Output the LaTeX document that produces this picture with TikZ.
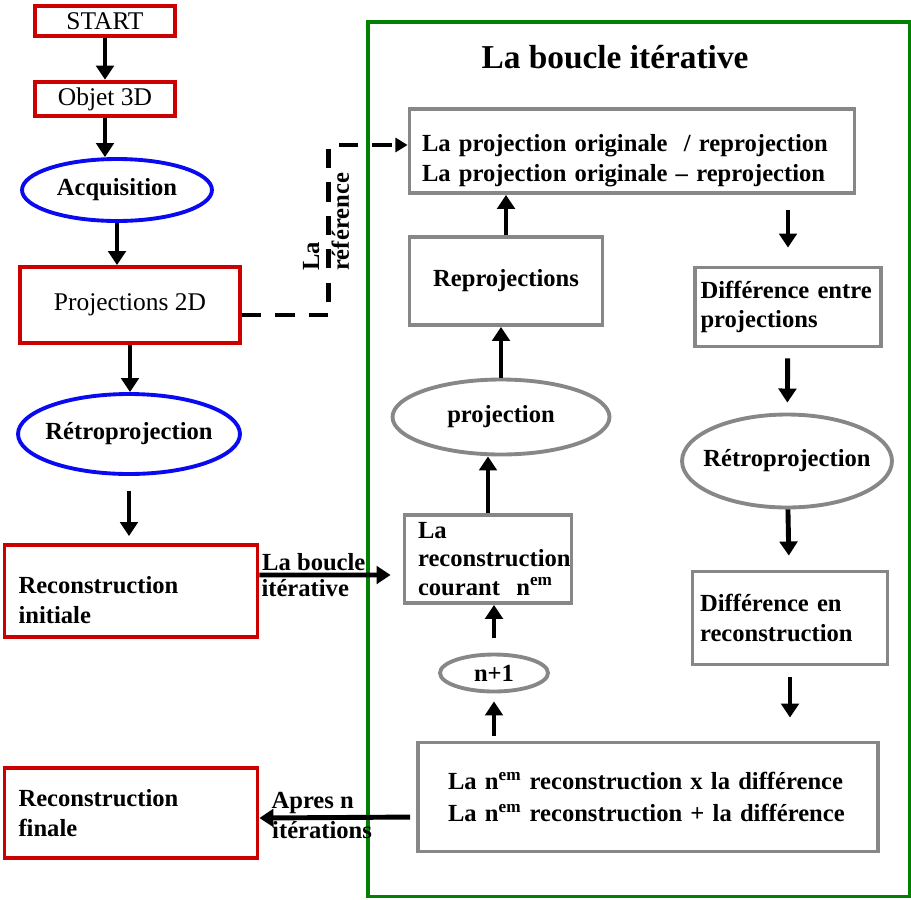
\documentclass[tikz,border=0pt]{standalone}
\usepackage{fontspec}
\setmainfont{Liberation Serif}
\usetikzlibrary{arrows.meta, shapes.geometric}

\definecolor{boxred}{RGB}{204,0,0}
\definecolor{ovalblue}{RGB}{10,10,240}
\definecolor{boxgray}{RGB}{135,135,135}
\definecolor{loopgreen}{RGB}{0,130,0}

\begin{document}
\begin{tikzpicture}[x=0.02cm, y=-0.02cm, >={Triangle[width=10pt, length=8pt]},
    every node/.style={font=\fontsize{14}{17}\selectfont\bfseries},
    plain/.style={font=\fontsize{14.5}{17}\selectfont},
    redbox/.style={rectangle, draw=boxred, line width=2.2pt, fill=white},
    blueoval/.style={ellipse, draw=ovalblue, line width=2.2pt, fill=white, inner xsep=-8pt, inner ysep=0pt},
    graybox/.style={rectangle, draw=boxgray, line width=2.2pt, fill=white},
    grayoval/.style={ellipse, draw=boxgray, line width=2.2pt, fill=white, inner xsep=-8pt, inner ysep=0pt},
    arr/.style={->, line width=2.8pt},
    dashline/.style={-{Triangle[width=8pt, length=7pt]}, line width=2.8pt, dash pattern=on 11pt off 8pt}]

    \useasboundingbox (0,0) rectangle (911,899);

    % the loop frame
    \node[draw=loopgreen, line width=2.2pt, minimum width=10.84cm, minimum height=17.5cm] (frame) at (639,459) {};
    \node[font=\fontsize{19}{22}\selectfont\bfseries] (titre) at (615,57) {La boucle itérative};

    % left column
    \node[redbox, plain, minimum width=2.8cm, minimum height=0.6cm] (start) at (105,21) {START};
    \node[redbox, plain, minimum width=2.8cm, minimum height=0.66cm] (objet) at (105,99) {Objet 3D};
    \node[blueoval, minimum width=3.8cm, minimum height=1.24cm] (acq) at (117,190) {Acquisition};
    \node[redbox, plain, minimum width=4.4cm, minimum height=1.52cm] (p2d) at (130,305) {Projections 2D};
    \node[blueoval, minimum width=4.44cm, minimum height=1.6cm] (retro) at (129,434) {Rétroprojection};
    \node[redbox, minimum width=5.06cm, minimum height=1.84cm, text width=4.5cm, align=left] (init) at (131,591) {\mbox{}\\[3pt]Reconstruction\\initiale};
    \node[redbox, minimum width=5.06cm, minimum height=1.8cm, text width=4.5cm, align=left] (fin) at (131,813) {Reconstruction\\finale};

    % inside the loop
    \node[graybox, minimum width=8.9cm, minimum height=1.56cm, text width=8.4cm, align=left] (top) at (632,151) {\mbox{}\\[4pt]La projection originale \ / reprojection\\La projection originale -- reprojection};
    \node[graybox, minimum width=3.86cm, minimum height=1.76cm] (reproj) at (506,281) {Reprojections};
    \node[grayoval, minimum width=4.34cm, minimum height=1.5cm] (proj) at (501,417) {projection};
    \node[graybox, minimum width=3.34cm, minimum height=1.76cm, text width=2.8cm, align=left, font=\fontsize{14}{16}\selectfont\bfseries] (cour) at (488,559) {La\\reconstruction\\courant \ n\textsuperscript{em}};
    \node[grayoval, minimum width=2.16cm, minimum height=0.74cm] (n1) at (494,673) {n+1};
    \node[graybox, minimum width=9.2cm, minimum height=2.18cm, text width=8cm, align=left, font=\fontsize{14}{18}\selectfont\bfseries] (bot) at (648,797) {La n\textsuperscript{em} reconstruction x la différence\\La n\textsuperscript{em} reconstruction + la différence};
    \node[graybox, minimum width=3.66cm, minimum height=1.58cm, text width=3.5cm, align=left] (diff1) at (788,307) {Différence entre\\projections};
    \node[grayoval, minimum width=4.2cm, minimum height=1.86cm] (retro2) at (787,461) {Rétroprojection};
    \node[graybox, minimum width=3.9cm, minimum height=1.86cm, text width=3.6cm, align=left] (diff2) at (790,618) {Différence en\\reconstruction};

    \node[rotate=90, align=left] (ref) at (326,222) {La\\référence};

\path[arr]
        (start) edge (objet)
        (objet.south) edge (objet.south |- acq.north)
        (acq.south) edge (acq.south |- p2d.north)
        (p2d.south) edge (p2d.south |- retro.north)
        (retro.south) edge[shorten <=0.3cm, shorten >=0.14cm] (retro.south |- init.north)
        (reproj.north) edge (reproj.north |- top.south)
        (proj.north) edge (proj.north |- reproj.south)
        (cour.north) edge (cour.north |- proj.south)
        (n1.north) edge[shorten <=0.3cm] (n1.north |- cour.south)
        (n1.south |- bot.north) edge[shorten <=0.1cm, shorten >=0.16cm] (n1.south)
        (top.south -| diff1.north) edge[shorten <=0.3cm, shorten >=0.36cm] (diff1.north)
        (diff1) edge[shorten <=0.2cm, shorten >=0.2cm] (retro2)
        (retro2) edge[shorten >=0.28cm] (diff2)
        (diff2.south) edge[shorten <=0.22cm, shorten >=0.46cm] (diff2.south |- bot.north)
        ([yshift=0.32cm]init.east) edge[shorten >=0.24cm] node[above, pos=0.38, inner sep=1pt] {La boucle} node[below, pos=0.32, inner sep=1pt] {itérative} ([yshift=-0.32cm]cour.west)
        ([yshift=-0.4cm]bot.west) edge[shorten <=0.12cm] node[above, pos=0.66, inner sep=1pt] {Apres n} node[below, pos=0.6, inner sep=1pt] {itérations} ([yshift=-0.1cm]fin.east)
;
    \draw[dashline] ([yshift=-0.2cm]p2d.east) -- ++(87,0) |- ([yshift=0.12cm]top.west);
\end{tikzpicture}
\end{document}
